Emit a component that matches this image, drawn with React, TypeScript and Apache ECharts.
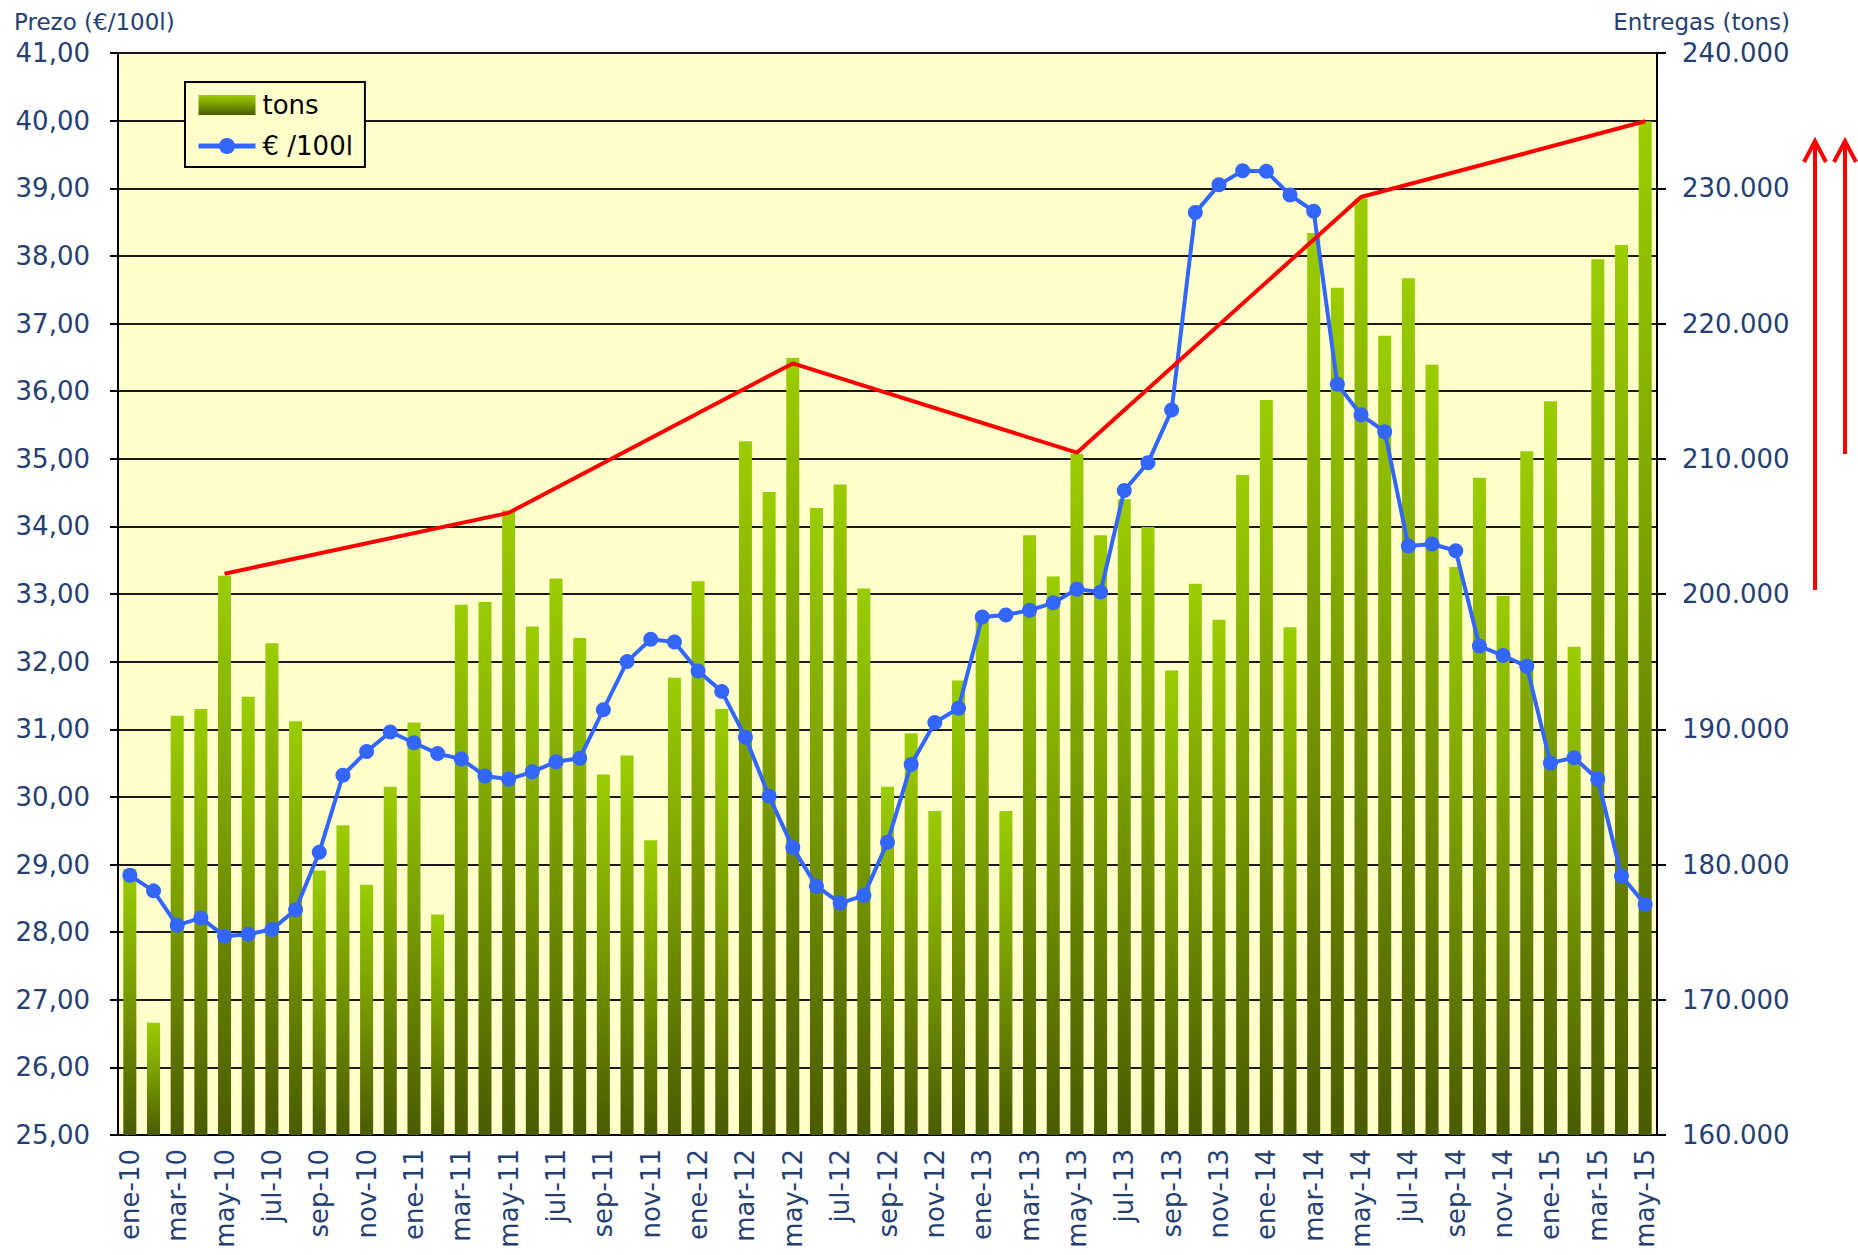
import React, { useEffect, useRef } from "react";
import * as echarts from "echarts";

const categories = [
  "ene-10","feb-10","mar-10","abr-10","may-10","jun-10","jul-10","ago-10","sep-10","oct-10","nov-10","dic-10",
  "ene-11","feb-11","mar-11","abr-11","may-11","jun-11","jul-11","ago-11","sep-11","oct-11","nov-11","dic-11",
  "ene-12","feb-12","mar-12","abr-12","may-12","jun-12","jul-12","ago-12","sep-12","oct-12","nov-12","dic-12",
  "ene-13","feb-13","mar-13","abr-13","may-13","jun-13","jul-13","ago-13","sep-13","oct-13","nov-13","dic-13",
  "ene-14","feb-14","mar-14","abr-14","may-14","jun-14","jul-14","ago-14","sep-14","oct-14","nov-14","dic-14",
  "ene-15","feb-15","mar-15","abr-15","may-15",
];

const tons = [
  179650, 168300, 191000, 191500, 201350, 192400, 196350, 190600, 179550, 182900, 178500, 185750,
  190500, 176300, 199200, 199400, 206200, 197600, 201150, 196750, 186650, 188050, 181800, 193800,
  200950, 191500, 211300, 207550, 217450, 206350, 208100, 200400, 185750, 189700, 183950, 193600,
  198000, 183950, 204350, 201300, 210350, 204350, 207000, 204950, 194350, 200750, 198100, 208800,
  214350, 197550, 226700, 222650, 229250, 219100, 223350, 216950, 202000, 208600, 199850, 210550,
  214250, 196100, 224750, 225800, 234950,
];

const price = [
  28.84, 28.61, 28.10, 28.21, 27.94, 27.97, 28.04, 28.33, 29.18, 30.32, 30.67, 30.96,
  30.80, 30.64, 30.56, 30.31, 30.26, 30.37, 30.52, 30.57, 31.29, 32.00, 32.33, 32.29,
  31.86, 31.56, 30.88, 30.01, 29.25, 28.68, 28.43, 28.54, 29.33, 30.48, 31.10, 31.31,
  32.66, 32.69, 32.76, 32.87, 33.07, 33.03, 34.53, 34.94, 35.72, 38.64, 39.05, 39.26,
  39.25, 38.90, 38.66, 36.10, 35.65, 35.40, 33.71, 33.74, 33.64, 32.23, 32.09, 31.93,
  30.50, 30.58, 30.26, 28.83, 28.41,
];

const trendMonths = ["may-10", "may-11", "may-12", "may-13", "may-14", "may-15"];
const trendTons = [201500, 206000, 217050, 210450, 229350, 234950];

const leftTitle = "Prezo (€/100l)";
const rightTitle = "Entregas (tons)";
const barName = "tons";
const lineName = "€ /100l";

const FONT = "DejaVu Sans";
const TXT = "#253F72";

function fmtThousands(v: number): string {
  return String(Math.round(v)).replace(/\B(?=(\d{3})+(?!\d))/g, ".");
}

export default function App() {
  const ref = useRef<HTMLDivElement>(null);

  useEffect(() => {
    if (!ref.current) return;
    const chart = echarts.init(ref.current, null, { renderer: "svg" });

    const barGradient = new echarts.graphic.LinearGradient(0, 0, 0, 1, [
      { offset: 0, color: "#9ACD00" },
      { offset: 0.45, color: "#7A9E00" },
      { offset: 1, color: "#4A5B00" },
    ]);

    const option: any = {
      animation: false,
      backgroundColor: "#ffffff",
      textStyle: { fontFamily: FONT },
      title: [
        {
          text: leftTitle,
          left: 14,
          top: 10,
          padding: 0,
          textStyle: { fontFamily: FONT, fontSize: 23, fontWeight: "normal", color: TXT },
        },
        {
          text: rightTitle,
          right: 68,
          top: 10,
          padding: 0,
          textStyle: { fontFamily: FONT, fontSize: 23, fontWeight: "normal", color: TXT },
        },
      ],
      legend: {
        orient: "vertical",
        left: 185,
        top: 82,
        data: [
          { name: barName, icon: "rect" },
          { name: lineName, lineStyle: { width: 5 } },
        ],
        backgroundColor: "#FFFFCC",
        borderColor: "#000000",
        borderWidth: 2,
        padding: [10, 12, 8, 11],
        itemGap: 15,
        itemWidth: 57,
        itemHeight: 20,
        textStyle: { fontFamily: FONT, fontSize: 26, color: "#000000", padding: [0, 0, 0, 2] },
      },
      grid: {
        left: 118,
        right: 201,
        top: 53,
        bottom: 120,
        show: true,
        backgroundColor: "#FFFFCC",
        borderWidth: 0,
        containLabel: false,
        outerBoundsMode: "none",
      },
      xAxis: {
        type: "category",
        data: categories,
        boundaryGap: true,
        axisLine: { show: true, lineStyle: { color: "#000000", width: 2 } },
        axisTick: { show: false },
        axisLabel: {
          interval: 1,
          rotate: 90,
          margin: 14,
          fontFamily: FONT,
          fontSize: 26,
          color: TXT,
        },
        splitLine: { show: false },
      },
      yAxis: [
        {
          type: "value",
          min: 25,
          max: 41,
          interval: 1,
          position: "left",
          axisLine: { show: true, lineStyle: { color: "#000000", width: 2 } },
          axisTick: { show: true, length: 8, lineStyle: { color: "#000000", width: 2 } },
          axisLabel: {
            margin: 28,
            fontFamily: FONT,
            fontSize: 26,
            color: TXT,
            formatter: (v: number) => v.toFixed(2).replace(".", ","),
          },
          splitLine: { show: true, lineStyle: { color: "#1a1a1a", width: 2 } },
        },
        {
          type: "value",
          min: 160000,
          max: 240000,
          interval: 10000,
          position: "right",
          axisLine: { show: true, lineStyle: { color: "#000000", width: 2 } },
          axisTick: { show: true, length: 9, lineStyle: { color: "#000000", width: 2 } },
          axisLabel: {
            margin: 25,
            fontFamily: FONT,
            fontSize: 26,
            color: TXT,
            formatter: (v: number) => fmtThousands(v),
          },
          splitLine: { show: false },
        },
      ],
      series: [
        {
          name: barName,
          type: "bar",
          yAxisIndex: 1,
          data: tons,
          barWidth: "55%",
          itemStyle: { color: barGradient },
          z: 2,
        },
        {
          name: lineName,
          type: "line",
          yAxisIndex: 0,
          data: price,
          symbol: "circle",
          symbolSize: 15,
          itemStyle: { color: "#3366FF" },
          lineStyle: { color: "#3366FF", width: 4 },
          z: 3,
        },
        {
          name: "trend",
          type: "line",
          yAxisIndex: 1,
          data: trendMonths.map((m, i) => [m, trendTons[i]]),
          symbol: "none",
          lineStyle: { color: "#FF0000", width: 4 },
          itemStyle: { color: "#FF0000" },
          z: 4,
          silent: true,
        },
      ],
      graphic: [
        {
          type: "line",
          shape: { x1: 1815, y1: 590, x2: 1815, y2: 143 },
          style: { stroke: "#FF0000", lineWidth: 4 },
        },
        {
          type: "polyline",
          shape: { points: [[1804, 162], [1815, 141], [1826, 162]] },
          style: { stroke: "#FF0000", lineWidth: 4, fill: null },
        },
        {
          type: "line",
          shape: { x1: 1845, y1: 454, x2: 1845, y2: 143 },
          style: { stroke: "#FF0000", lineWidth: 4 },
        },
        {
          type: "polyline",
          shape: { points: [[1834, 162], [1845, 141], [1856, 162]] },
          style: { stroke: "#FF0000", lineWidth: 4, fill: null },
        },
      ],
    };

    chart.setOption(option);
    return () => chart.dispose();
  }, []);

  return (
    <div
      ref={ref}
      style={{ position: "absolute", left: 0, top: 0, width: 1858, height: 1255, background: "#fff" }}
    />
  );
}
